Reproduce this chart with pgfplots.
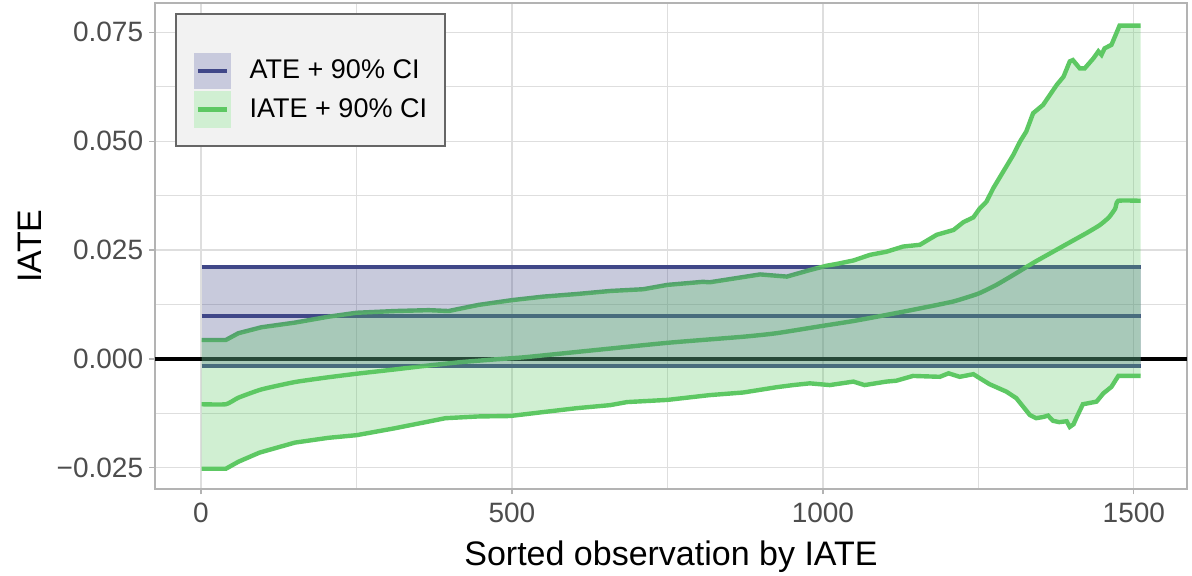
\documentclass[border=0pt]{standalone}
\usepackage{fontspec}
\setmainfont{Liberation Sans}
\usepackage{pgfplots}
\pgfplotsset{compat=1.18}
\usepgfplotslibrary{fillbetween}

\definecolor{ate}{HTML}{404788}
\definecolor{iate}{HTML}{5DC863}
\definecolor{panelgray}{HTML}{B3B3B3}
\definecolor{gridgray}{HTML}{DEDEDE}
\definecolor{tickgray}{HTML}{4D4D4D}
\definecolor{legbg}{HTML}{F2F2F2}
\definecolor{legline}{HTML}{666666}

\tikzset{fill between/on layer=main}

% upper CI, IATE, lower CI
\pgfplotstableread{
x y
1 0.00436
40 0.00436
60 0.0059
97 0.00727
151 0.00834
205 0.0097
250 0.0106
312 0.0110
366 0.0112
398 0.0110
446 0.0124
500 0.0135
550 0.0143
604 0.0149
658 0.0156
711 0.0160
750 0.0170
807 0.0177
818 0.0176
872 0.0188
899 0.0194
942 0.0189
979 0.0204
1006 0.0214
1022 0.0218
1049 0.0226
1076 0.0239
1102 0.0246
1129 0.0258
1156 0.0262
1183 0.0285
1210 0.0296
1226 0.0314
1242 0.0325
1252 0.0345
1263 0.0361
1274 0.0392
1290 0.0430
1306 0.0468
1317 0.0499
1327 0.0522
1338 0.0564
1354 0.0583
1365 0.0606
1376 0.0629
1387 0.0648
1397 0.0683
1402 0.0686
1413 0.0667
1421 0.0667
1435 0.0690
1443 0.0706
1448 0.0698
1453 0.0713
1464 0.0721
1472 0.0748
1477 0.0765
1511 0.0765
}\uppertab

\pgfplotstableread{
x y
1 -0.0104
40 -0.0104
60 -0.0089
97 -0.0070
151 -0.0053
205 -0.0042
250 -0.0034
312 -0.0024
366 -0.0015
420 -0.0007
473 -0.0001
521 0.0004
604 0.0016
750 0.0037
872 0.0051
925 0.0059
1000 0.0076
1049 0.0087
1102 0.0101
1156 0.0116
1210 0.0132
1250 0.0150
1279 0.0170
1310 0.0196
1340 0.0222
1370 0.0246
1400 0.0270
1424 0.0289
1445 0.0307
1460 0.0325
1470 0.0345
1475 0.0363
1511 0.0363
}\iatetab

\pgfplotstableread{
x y
1 -0.0252
40 -0.0252
60 -0.0236
94 -0.0215
151 -0.0192
205 -0.0181
250 -0.0175
312 -0.0159
393 -0.0136
446 -0.0132
497 -0.0131
550 -0.0122
604 -0.0113
658 -0.0106
685 -0.0099
750 -0.0094
818 -0.0083
872 -0.0077
925 -0.0065
952 -0.0060
979 -0.0056
1011 -0.0060
1049 -0.0052
1067 -0.0060
1102 -0.0052
1118 -0.0050
1145 -0.0039
1188 -0.0041
1202 -0.0033
1220 -0.0041
1242 -0.0035
1252 -0.0044
1268 -0.0058
1295 -0.0075
1311 -0.0090
1333 -0.0129
1343 -0.0136
1355 -0.0133
1362 -0.0130
1370 -0.0142
1380 -0.0145
1392 -0.0143
1397 -0.0156
1403 -0.0150
1408 -0.0134
1418 -0.0104
1440 -0.0098
1451 -0.0079
1464 -0.0064
1475 -0.0039
1511 -0.0039
}\lowertab

\begin{document}
\begin{tikzpicture}
\begin{axis}[
    at={(0,0)}, anchor=south west,
    scale only axis, width=516pt, height=243pt,
    xmin=-74, xmax=1585.5, ymin=-0.02985, ymax=0.0817,
    axis line style={draw=panelgray, line width=1pt},
    xtick={0,500,1000,1500}, xticklabels={0,500,1000,1500},
    ytick={-0.025,0,0.025,0.05,0.075},
    yticklabels={−0.025,0.000,0.025,0.050,0.075},
    scaled y ticks=false,
    minor xtick={250,750,1250},
    minor ytick={-0.0125,0.0125,0.0375,0.0625},
    grid=both,
    major grid style={draw=gridgray, line width=0.6pt},
    minor grid style={draw=gridgray, line width=0.35pt},
    tick align=outside, tick pos=left,
    major tick length=2.75pt, minor tick length=0pt,
    tick style={draw=panelgray, line width=0.6pt},
    ticklabel style={font=\fontsize{14}{16}\selectfont, text=tickgray, inner sep=0pt},
    xticklabel style={anchor=north, yshift=-4pt},
    yticklabel style={anchor=east, xshift=-3pt},
    xlabel={Sorted observation by IATE},
    ylabel={IATE},
    every axis x label/.style={at={(axis description cs:0.5,-0.1564)}, anchor=base, font=\fontsize{17}{20}\selectfont},
    every axis y label/.style={at={(axis description cs:-0.1095,0.5)}, anchor=base, rotate=90, font=\fontsize{17}{20}\selectfont},
    legend cell align=left,
    legend style={at={(axis description cs:0.0194,0.979)}, anchor=north west,
        fill=legbg, draw=legline, line width=0.9pt,
        inner xsep=9pt, inner ysep=9pt, row sep=0.75pt,
        nodes={inner sep=0pt, font=\fontsize{13.5}{16}\selectfont},
        /tikz/every odd column/.append style={column sep=9.5pt}},
]
\addlegendimage{empty legend}
\addlegendentry{\rule{0pt}{8pt}}
\addlegendimage{legend image code/.code={
    \fill[ate!29!white] (0pt,-8.75pt) rectangle (17.5pt,8.75pt);
    \draw[ate, line width=2pt] (1.5pt,0pt) -- (16pt,0pt);}}
\addlegendentry{ATE + 90\% CI}
\addlegendimage{legend image code/.code={
    \fill[iate!29!white] (0pt,-8.75pt) rectangle (17.5pt,8.75pt);
    \draw[iate, line width=2.2pt] (1.5pt,0pt) -- (16pt,0pt);}}
\addlegendentry{IATE + 90\% CI}

% zero line
\addplot[forget plot, black, line width=1.7pt] coordinates {(-74,0) (1585.5,0)};
% ATE and its CI
\addplot[forget plot, ate, line width=1.9pt] coordinates {(1,0.02105) (1511,0.02105)};
\addplot[forget plot, ate, line width=1.9pt] coordinates {(1,0.0098) (1511,0.0098)};
\addplot[forget plot, ate, line width=1.9pt] coordinates {(1,-0.00154) (1511,-0.00154)};
% IATE and its CI
\addplot[forget plot, iate, line width=2.2pt, name path=up] table {\uppertab};
\addplot[forget plot, iate, line width=2.2pt, smooth, tension=0.3] table {\iatetab};
\addplot[forget plot, iate, line width=2.2pt, name path=lo] table {\lowertab};
% ribbons
\addplot[forget plot, fill=ate, fill opacity=0.29, draw=none]
    coordinates {(1,-0.00154) (1511,-0.00154) (1511,0.02105) (1,0.02105)} -- cycle;
\addplot[forget plot, fill=iate, fill opacity=0.29, draw=none] fill between[of=up and lo];
\end{axis}
\pgfresetboundingbox
\path (-77.5pt,-43.5pt) rectangle (518.5pt,244.5pt);
\end{tikzpicture}
\end{document}
